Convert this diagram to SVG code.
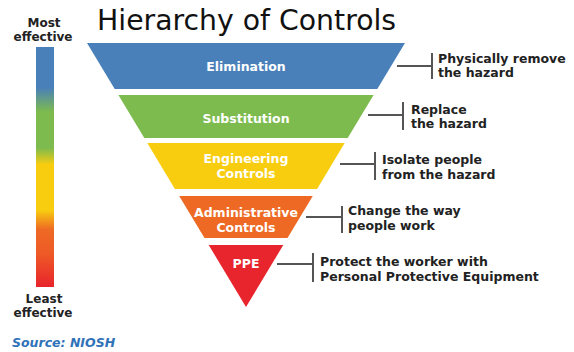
<svg xmlns="http://www.w3.org/2000/svg" width="574" height="352" viewBox="0 0 574 352">
<defs>
<linearGradient id="bar" x1="0" y1="0" x2="0" y2="1">
<stop offset="0" stop-color="#4a80b9"/>
<stop offset="0.17" stop-color="#4a80b9"/>
<stop offset="0.27" stop-color="#7dbb4e"/>
<stop offset="0.42" stop-color="#7dbb4e"/>
<stop offset="0.49" stop-color="#f8cd10"/>
<stop offset="0.68" stop-color="#f8cd10"/>
<stop offset="0.76" stop-color="#ee6a24"/>
<stop offset="0.86" stop-color="#ee5a26"/>
<stop offset="1" stop-color="#e8242c"/>
</linearGradient>
</defs>
<style>
.t{font-family:"DejaVu Sans",sans-serif;font-weight:bold;font-size:12.5px;fill:#222}
.s{font-family:"DejaVu Sans",sans-serif;font-weight:bold;font-size:12px;fill:#222;text-anchor:middle}
.w{font-family:"DejaVu Sans",sans-serif;font-weight:bold;font-size:12.5px;fill:#fff;text-anchor:middle}
.c{fill:none;stroke:#555;stroke-width:2}
</style>
<rect width="574" height="352" fill="#fff"/>
<text x="97" y="30" font-family="DejaVu Sans, sans-serif" font-size="28.3" fill="#111">Hierarchy of Controls</text>
<g id="scale">
<rect x="36" y="47" width="18" height="240" fill="url(#bar)"/>
<text class="s" x="44" y="27">Most</text>
<text class="s" x="43" y="41">effective</text>
<text class="s" x="44" y="303">Least</text>
<text class="s" x="43" y="317">effective</text>
</g>
<text x="12" y="347" font-family="DejaVu Sans, sans-serif" font-weight="bold" font-style="italic" font-size="12.5" fill="#2f72b8">Source: NIOSH</text>
<g id="elimination">
<polygon points="87,43 405,43 377.3,89 114.7,89" fill="#4a80b9"/>
<text class="w" x="246" y="71">Elimination</text>
</g>
<g id="substitution">
<polygon points="118.4,95 373.6,95 347.7,138 144.3,138" fill="#7dbb4e"/>
<text class="w" x="246" y="123">Substitution</text>
</g>
<g id="engineering">
<polygon points="147.3,143 344.7,143 317.1,189 174.9,189" fill="#f8cd10"/>
<text class="w" x="246" y="163">Engineering</text>
<text class="w" x="246" y="178">Controls</text>
</g>
<g id="administrative">
<polygon points="179.2,196 312.8,196 287.5,238 204.5,238" fill="#ee6a24"/>
<text class="w" x="246" y="217">Administrative</text>
<text class="w" x="246" y="232">Controls</text>
</g>
<g id="ppe">
<polygon points="208.7,245 283.3,245 246,307" fill="#e8242c"/>
<text class="w" x="246" y="268">PPE</text>
</g>
<g id="connectors">
<path class="c" d="M397,66 H432 M432,53 V79"/>
<path class="c" d="M368,115 H403 M403,102 V130"/>
<path class="c" d="M340,164 H375 M375,152 V180"/>
<path class="c" d="M306,217 H342 M342,206 V233"/>
<path class="c" d="M277,264 H313 M313,253 V282"/>
</g>
<g id="notes">
<text class="t" x="438" y="63">Physically remove</text>
<text class="t" x="438" y="77">the hazard</text>
<text class="t" x="411" y="114">Replace</text>
<text class="t" x="411" y="128">the hazard</text>
<text class="t" x="382" y="164">Isolate people</text>
<text class="t" x="382" y="179">from the hazard</text>
<text class="t" x="348" y="215">Change the way</text>
<text class="t" x="348" y="230">people work</text>
<text class="t" x="320" y="266">Protect the worker with</text>
<text class="t" x="320" y="281">Personal Protective Equipment</text>
</g>
</svg>
